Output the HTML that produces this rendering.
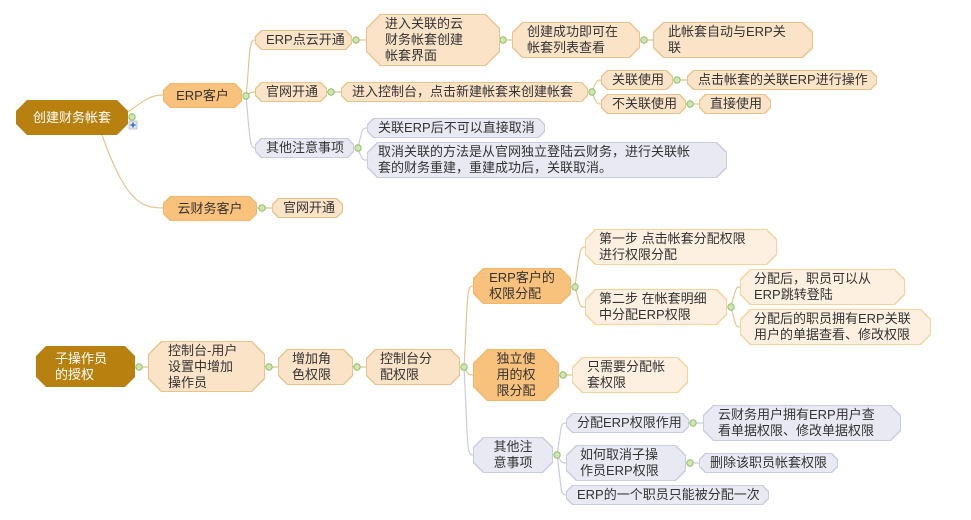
<!DOCTYPE html>
<html><head><meta charset="utf-8">
<style>
body{margin:0;width:971px;height:520px;background:#fff;position:relative;overflow:hidden;font-family:"Liberation Sans","Noto Sans CJK SC",sans-serif;}
svg{position:absolute;left:0;top:0}
.n{position:absolute;box-sizing:border-box;--c:6px;
clip-path:polygon(var(--c) 0,calc(100% - var(--c)) 0,100% var(--c),100% calc(100% - var(--c)),calc(100% - var(--c)) 100%,var(--c) 100%,0 calc(100% - var(--c)),0 var(--c));}
.n>div{position:absolute;inset:1px;display:flex;align-items:center;padding:0 10px;font-size:13px;line-height:16px;color:#333;white-space:nowrap;
clip-path:polygon(var(--c) 0,calc(100% - var(--c)) 0,100% var(--c),100% calc(100% - var(--c)),calc(100% - var(--c)) 100%,var(--c) 100%,0 calc(100% - var(--c)),0 var(--c));}
.o{background:#efb86c}.o>div{background:#f8c17c}
.l{background:#e6c48c}.l>div{background:#fbe3c8}
.v{background:#f4d39a}.v>div{background:#fdf0e0}
.p{background:#c9cbe0}.p>div{background:#e8e9f3}
.d{background:#b8800f}.d>div{background:#b8800f;color:#fff}
.c>div{justify-content:center}
</style></head><body>
<svg width="971" height="520" fill="none" stroke-width="1.2">
<g stroke="#e3c48e">
<path d="M128 112 C145 100,150 95,163 95"/>
<path d="M102 135 C125 200,140 208,163 208"/>
<path d="M246 96 C250 60,248 40,255 40"/>
<path d="M246 96 C250 92,252 92,255 92"/>
<path d="M352 40 H366 M500 40 H512 M640 40 H653 M327 92 H341 M257 208 H272"/>
<path d="M592 92 C596 80,598 80,601 80 M592 92 C596 104,598 104,601 104"/>
<path d="M673 80 H687 M686 104 H699"/>
<path d="M135 367 H148 M265 367 H278 M353 367 H366"/>
<path d="M464 367 C468 300,466 286,473 286 M464 367 C468 375,470 375,473 375"/>
<path d="M575 286 C580 250,580 247,585 247 M575 286 C580 307,580 307,585 307"/>
<path d="M731 307 C736 287,736 287,740 287 M731 307 C736 327,736 327,740 327"/>
<path d="M559 375 H572"/>
</g>
<g stroke="#c9cbe0">
<path d="M246 96 C250 140,250 148,255 148"/>
<path d="M358 148 C362 130,362 128,367 128 M358 148 C362 160,362 160,367 160"/>
<path d="M464 367 C468 440,466 455,473 455"/>
<path d="M557 455 C562 425,560 423,566 423 M557 455 C562 463,562 463,566 463 M557 455 C562 490,560 495,566 495"/>
<path d="M689 423 H703 M686 463 H699"/>
</g>
<g fill="#cfe6b2" stroke="#8fbf6a" stroke-width="1">
<circle cx="132" cy="117" r="3.2"/><circle cx="246" cy="96" r="3.2"/><circle cx="356" cy="40" r="3.2"/><circle cx="503" cy="40" r="3.2"/><circle cx="644" cy="40" r="3.2"/><circle cx="331" cy="92" r="3.2"/><circle cx="592" cy="92" r="3.2"/><circle cx="677" cy="80" r="3.2"/><circle cx="690" cy="104" r="3.2"/><circle cx="358" cy="148" r="3.2"/><circle cx="262" cy="208" r="3.2"/>
<circle cx="139" cy="367" r="3.2"/><circle cx="269" cy="367" r="3.2"/><circle cx="357" cy="367" r="3.2"/><circle cx="464" cy="367" r="3.2"/><circle cx="575" cy="287" r="3.2"/><circle cx="731" cy="307" r="3.2"/><circle cx="563" cy="375" r="3.2"/><circle cx="557" cy="455" r="3.2"/><circle cx="693" cy="423" r="3.2"/><circle cx="690" cy="463" r="3.2"/>
</g>
<rect x="129" y="121" width="8" height="8" fill="#dfe6ee" stroke="#aab" stroke-width="0.6"/>
<path d="M133 122.5 V127.5 M130.5 125 H135.5" stroke="#3a6fd0" stroke-width="1.6"/>
</svg>

<div class="n d c" style="left:16px;top:100px;width:112px;height:35px;--c:11px"><div>创建财务帐套</div></div>
<div class="n o c" style="left:163px;top:83px;width:79px;height:25px;--c:7px"><div>ERP客户</div></div>
<div class="n o c" style="left:163px;top:196px;width:94px;height:25px;--c:7px"><div>云财务客户</div></div>
<div class="n l" style="left:255px;top:30px;width:97px;height:20px"><div>ERP点云开通</div></div>
<div class="n l" style="left:255px;top:82px;width:72px;height:20px"><div>官网开通</div></div>
<div class="n p" style="left:255px;top:138px;width:99px;height:20px"><div>其他注意事项</div></div>
<div class="n l" style="left:366px;top:14px;width:134px;height:52px;--c:14px"><div style="padding-left:18px">进入关联的云<br>财务帐套创建<br>帐套界面</div></div>
<div class="n l" style="left:512px;top:22px;width:128px;height:36px;--c:10px"><div style="padding-left:14px">创建成功即可在<br>帐套列表查看</div></div>
<div class="n l" style="left:653px;top:22px;width:160px;height:36px;--c:10px"><div style="padding-left:14px">此帐套自动与ERP关<br>联</div></div>
<div class="n l" style="left:341px;top:82px;width:247px;height:20px"><div>进入控制台，点击新建帐套来创建帐套</div></div>
<div class="n l" style="left:601px;top:70px;width:72px;height:20px"><div>关联使用</div></div>
<div class="n l" style="left:687px;top:70px;width:190px;height:20px"><div>点击帐套的关联ERP进行操作</div></div>
<div class="n l" style="left:601px;top:94px;width:85px;height:20px"><div>不关联使用</div></div>
<div class="n l" style="left:699px;top:94px;width:72px;height:20px"><div>直接使用</div></div>
<div class="n p" style="left:367px;top:118px;width:178px;height:20px"><div>关联ERP后不可以直接取消</div></div>
<div class="n p" style="left:367px;top:142px;width:360px;height:36px;--c:10px"><div>取消关联的方法是从官网独立登陆云财务，进行关联帐<br>套的财务重建，重建成功后，关联取消。</div></div>
<div class="n l" style="left:272px;top:198px;width:71px;height:20px"><div>官网开通</div></div>

<div class="n d" style="left:36px;top:346px;width:99px;height:41px;--c:10px"><div style="padding-left:18px">子操作员<br>的授权</div></div>
<div class="n l" style="left:148px;top:341px;width:117px;height:51px;--c:13px"><div style="padding-left:19px">控制台-用户<br>设置中增加<br>操作员</div></div>
<div class="n l" style="left:278px;top:349px;width:75px;height:36px;--c:9px"><div style="padding-left:13px">增加角<br>色权限</div></div>
<div class="n l" style="left:366px;top:349px;width:94px;height:36px;--c:9px"><div style="padding-left:13px">控制台分<br>配权限</div></div>
<div class="n o c" style="left:473px;top:268px;width:98px;height:36px;--c:10px"><div>ERP客户的<br>权限分配</div></div>
<div class="n o c" style="left:473px;top:349px;width:86px;height:52px;--c:14px"><div>独立使<br>用的权<br>限分配</div></div>
<div class="n p c" style="left:473px;top:437px;width:80px;height:36px;--c:10px"><div>其他注<br>意事项</div></div>
<div class="n v" style="left:585px;top:229px;width:192px;height:36px;--c:10px"><div style="padding-left:13px">第一步 点击帐套分配权限<br>进行权限分配</div></div>
<div class="n v" style="left:585px;top:289px;width:142px;height:36px;--c:10px"><div style="padding-left:13px">第二步 在帐套明细<br>中分配ERP权限</div></div>
<div class="n v" style="left:740px;top:269px;width:165px;height:36px;--c:10px"><div style="padding-left:13px">分配后，职员可以从<br>ERP跳转登陆</div></div>
<div class="n v" style="left:740px;top:309px;width:191px;height:36px;--c:10px"><div style="padding-left:13px">分配后的职员拥有ERP关联<br>用户的单据查看、修改权限</div></div>
<div class="n v" style="left:572px;top:357px;width:116px;height:36px;--c:10px"><div style="padding-left:14px">只需要分配帐<br>套权限</div></div>
<div class="n p" style="left:566px;top:413px;width:123px;height:20px"><div>分配ERP权限作用</div></div>
<div class="n p" style="left:703px;top:405px;width:198px;height:36px;--c:10px"><div style="padding-left:14px">云财务用户拥有ERP用户查<br>看单据权限、修改单据权限</div></div>
<div class="n p" style="left:566px;top:445px;width:120px;height:36px;--c:10px"><div style="padding-left:13px">如何取消子操<br>作员ERP权限</div></div>
<div class="n p" style="left:699px;top:453px;width:139px;height:20px"><div>删除该职员帐套权限</div></div>
<div class="n p" style="left:566px;top:485px;width:203px;height:20px"><div>ERP的一个职员只能被分配一次</div></div>
</body></html>
